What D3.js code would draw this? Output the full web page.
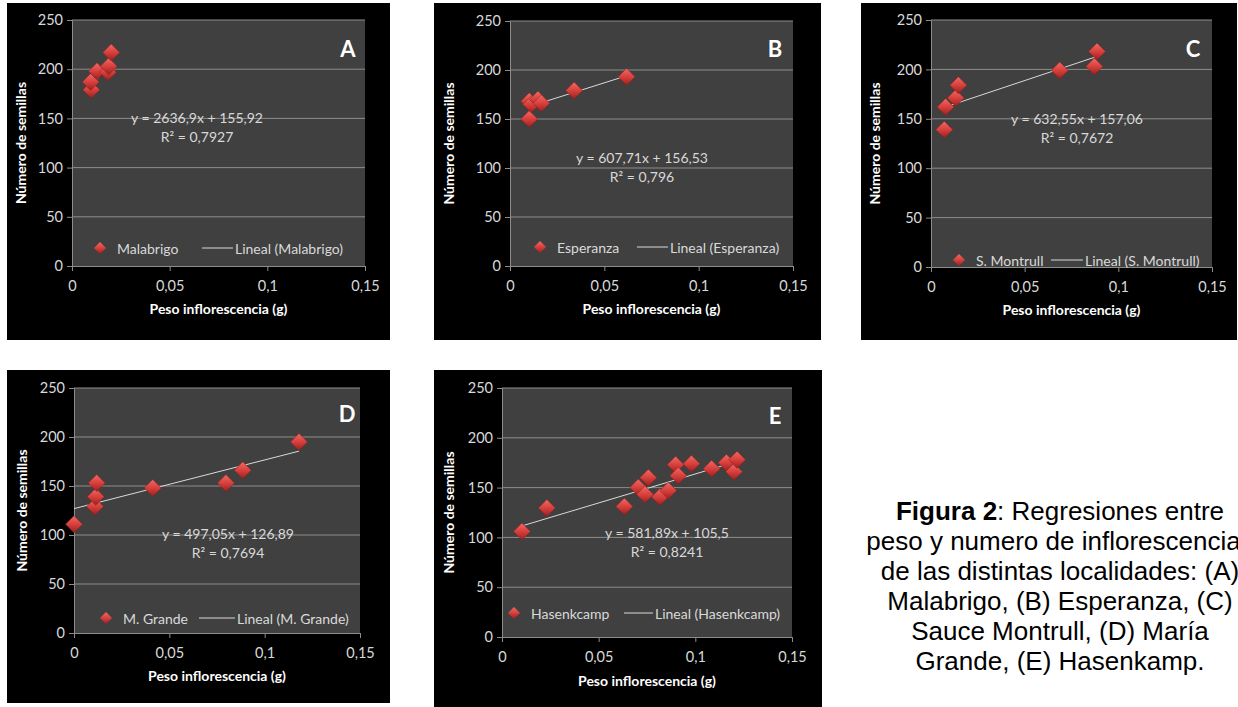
<!DOCTYPE html>
<html>
<head>
<meta charset="utf-8">
<script src="https://cdn.jsdelivr.net/npm/d3@7"></script>
<style>
  body { margin: 0; background: #fff; }
  svg { display: block; }
</style>
</head>
<body>
<svg id="fig" width="1238" height="707"></svg>
<script>
// ---- data ----
const panelIds = ["A", "B", "C", "D", "E"];
const seriesNames = ["Malabrigo", "Esperanza", "S. Montrull", "M. Grande", "Hasenkcamp"];

const malabrigoX = [0.0099, 0.0096, 0.0128, 0.0184, 0.0188, 0.0201];
const malabrigoY = [179, 187, 198, 197, 203, 217];

const esperanzaX = [0.0102, 0.0102, 0.0113, 0.0148, 0.0166, 0.0340, 0.0618];
const esperanzaY = [150, 168, 165, 170, 166, 179, 193];

const montrullX = [0.0071, 0.0078, 0.0132, 0.0146, 0.0687, 0.0872, 0.0886];
const montrullY = [139, 162, 171, 184, 199, 203, 218];

const grandeX = [0.0000, 0.0110, 0.0114, 0.0119, 0.0413, 0.0797, 0.0885, 0.1180];
const grandeY = [111, 129, 139, 153, 148, 153, 166, 195];

const hasenX = [0.0103, 0.0232, 0.0633, 0.0705, 0.0740, 0.0757, 0.0817, 0.0860, 0.0898, 0.0912, 0.0980, 0.1084, 0.1161, 0.1200, 0.1216];
const hasenY = [106, 129.5, 131, 150, 143, 160, 140.6, 147, 173, 162, 174, 169, 175, 166, 178];

// trendline coefficients (slope, intercept) and R² as printed
const slopes = [2636.9, 607.71, 632.55, 497.05, 581.89];
const intercepts = [155.92, 156.53, 157.06, 126.89, 105.5];
const r2Labels = ["0,7927", "0,796", "0,7672", "0,7694", "0,8241"];

const xTicks = [0, 0.05, 0.1, 0.15];
const yTicks = [0, 50, 100, 150, 200, 250];

const captionLines = [
  ["Figura 2", ": Regresiones entre"],
  ["", "peso y numero de inflorescencias"],
  ["", "de las distintas localidades: (A)"],
  ["", "Malabrigo, (B) Esperanza, (C)"],
  ["", "Sauce Montrull, (D) María"],
  ["", "Grande, (E) Hasenkamp."]
];

// ---- layout (pixels) ----
const layout = [
  {box: [7, 3, 383, 337], plot: [72, 365, 20, 266], letter: [348, 48], eq: [197, 118], leg: [100, 248, 202, 233], yTitleX: 22, xTickY: 287, xTitleY: 310},
  {box: [434, 3, 387, 337], plot: [510, 793, 21, 266], letter: [775, 48], eq: [642, 158], leg: [540, 247, 637, 668], yTitleX: 450, xTickY: 287, xTitleY: 310},
  {box: [861, 3, 376, 337], plot: [931, 1212, 20, 267], letter: [1193, 48], eq: [1077, 119], leg: [959, 260, 1051, 1083], yTitleX: 876, xTickY: 287, xTitleY: 311},
  {box: [7, 370, 383, 333], plot: [74, 360, 388, 633], letter: [347, 413], eq: [228, 534], leg: [106, 618, 199, 235], yTitleX: 23, xTickY: 655, xTitleY: 677},
  {box: [434, 370, 388, 337], plot: [502, 792, 388, 637], letter: [775, 415], eq: [667, 533], leg: [514, 613, 624, 653], yTitleX: 450, xTickY: 657, xTitleY: 682}
];

const xs = [malabrigoX, esperanzaX, montrullX, grandeX, hasenX];
const ys = [malabrigoY, esperanzaY, montrullY, grandeY, hasenY];

const FONT = "Lato, 'Open Sans', sans-serif";
const fmt = d => String(d).replace(".", ",");

const svg = d3.select("#fig");

// marker gradient (3D-looking red diamond)
const defs = svg.append("defs");
const grad = defs.append("linearGradient")
  .attr("id", "dia").attr("x1", 0).attr("y1", 0).attr("x2", 0).attr("y2", 1);
grad.append("stop").attr("offset", "0%").attr("stop-color", "#f06a66");
grad.append("stop").attr("offset", "50%").attr("stop-color", "#d8403c");
grad.append("stop").attr("offset", "100%").attr("stop-color", "#9a2020");

const diamond = s => `M0,${-s}L${s},0L0,${s}L${-s},0Z`;

panelIds.forEach((id, i) => {
  const L = layout[i];
  const g = svg.append("g").attr("class", "panel");

  g.append("rect")
    .attr("x", L.box[0]).attr("y", L.box[1])
    .attr("width", L.box[2]).attr("height", L.box[3])
    .attr("fill", "#000");

  const x = d3.scaleLinear().domain([0, 0.15]).range([L.plot[0], L.plot[1]]);
  const y = d3.scaleLinear().domain([0, 250]).range([L.plot[3], L.plot[2]]);

  g.append("rect")
    .attr("x", L.plot[0]).attr("y", L.plot[2])
    .attr("width", L.plot[1] - L.plot[0]).attr("height", L.plot[3] - L.plot[2])
    .attr("fill", "#404040");

  // gridlines
  g.append("g").selectAll("line").data(yTicks.filter(d => d > 0)).join("line")
    .attr("x1", L.plot[0]).attr("x2", L.plot[1])
    .attr("y1", d => y(d)).attr("y2", d => y(d))
    .attr("stroke", "#8c8c8c").attr("stroke-width", 1);

  // axes
  const yAxis = g.append("g").attr("transform", `translate(${L.plot[0]},0)`)
    .call(d3.axisLeft(y).tickValues(yTicks).tickSize(5).tickPadding(4).tickFormat(fmt));
  const xAxis = g.append("g").attr("transform", `translate(0,${L.plot[3]})`)
    .call(d3.axisBottom(x).tickValues(xTicks).tickSize(5).tickPadding(10).tickFormat(fmt));
  [yAxis, xAxis].forEach(ax => {
    ax.select(".domain").attr("stroke", "#8c8c8c");
    ax.selectAll(".tick line").attr("stroke", "#8c8c8c");
    ax.selectAll(".tick text")
      .attr("fill", "#d9d9d9").style("font-family", FONT).style("font-size", "14.5px");
  });

  // axis titles
  g.append("text")
    .attr("transform", `translate(${L.yTitleX},${(L.plot[2] + L.plot[3]) / 2}) rotate(-90)`)
    .attr("text-anchor", "middle").attr("dominant-baseline", "middle")
    .attr("fill", "#fff").style("font-family", FONT).style("font-weight", "bold").style("font-size", "14px")
    .text("Número de semillas");
  g.append("text")
    .attr("x", (L.plot[0] + L.plot[1]) / 2).attr("y", L.xTitleY)
    .attr("text-anchor", "middle").attr("dominant-baseline", "middle")
    .attr("fill", "#fff").style("font-family", FONT).style("font-weight", "bold").style("font-size", "14px")
    .text("Peso inflorescencia (g)");

  // trendline
  const xe = d3.extent(xs[i]);
  g.append("line")
    .attr("x1", x(xe[0])).attr("y1", y(slopes[i] * xe[0] + intercepts[i]))
    .attr("x2", x(xe[1])).attr("y2", y(slopes[i] * xe[1] + intercepts[i]))
    .attr("stroke", "#d9d9d9").attr("stroke-width", 1);

  // points
  g.append("g").selectAll("path").data(d3.range(xs[i].length)).join("path")
    .attr("transform", k => `translate(${x(xs[i][k])},${y(ys[i][k])})`)
    .attr("d", diamond(8.5))
    .attr("fill", "url(#dia)")
    .attr("stroke", "#8a1c1c").attr("stroke-width", 0.5);

  // equation label
  const eq = g.append("text")
    .attr("text-anchor", "middle").attr("fill", "#d9d9d9")
    .style("font-family", FONT).style("font-size", "14px");
  eq.append("tspan").attr("x", L.eq[0]).attr("y", L.eq[1] + 5)
    .text(`y = ${fmt(slopes[i])}x + ${fmt(intercepts[i])}`);
  eq.append("tspan").attr("x", L.eq[0]).attr("y", L.eq[1] + 24)
    .text(`R² = ${r2Labels[i]}`);

  // panel letter
  g.append("text")
    .attr("x", L.letter[0]).attr("y", L.letter[1])
    .attr("text-anchor", "middle").attr("dominant-baseline", "central")
    .attr("fill", "#fff").style("font-family", FONT).style("font-weight", "bold").style("font-size", "22px")
    .text(id);

  // legend
  g.append("path")
    .attr("transform", `translate(${L.leg[0]},${L.leg[1]})`)
    .attr("d", diamond(6))
    .attr("fill", "url(#dia)");
  g.append("text")
    .attr("x", L.leg[0] + 17).attr("y", L.leg[1]).attr("dominant-baseline", "central")
    .attr("fill", "#d9d9d9").style("font-family", FONT).style("font-size", "14px")
    .text(seriesNames[i]);
  g.append("line")
    .attr("x1", L.leg[2]).attr("x2", L.leg[3]).attr("y1", L.leg[1]).attr("y2", L.leg[1])
    .attr("stroke", "#d9d9d9").attr("stroke-width", 1);
  g.append("text")
    .attr("x", L.leg[3] + 2).attr("y", L.leg[1]).attr("dominant-baseline", "central")
    .attr("fill", "#d9d9d9").style("font-family", FONT).style("font-size", "14px")
    .text(`Lineal (${seriesNames[i]})`);
});

// caption
const cap = svg.append("g");
captionLines.forEach((parts, k) => {
  const t = cap.append("text")
    .attr("x", 1060).attr("y", 520 + k * 30)
    .attr("text-anchor", "middle").attr("fill", "#000")
    .style("font-family", "'Liberation Sans', Arial, sans-serif").style("font-size", "26px");
  if (parts[0]) t.append("tspan").style("font-weight", "bold").text(parts[0]);
  t.append("tspan").text(parts[1]);
});
</script>
</body>
</html>
